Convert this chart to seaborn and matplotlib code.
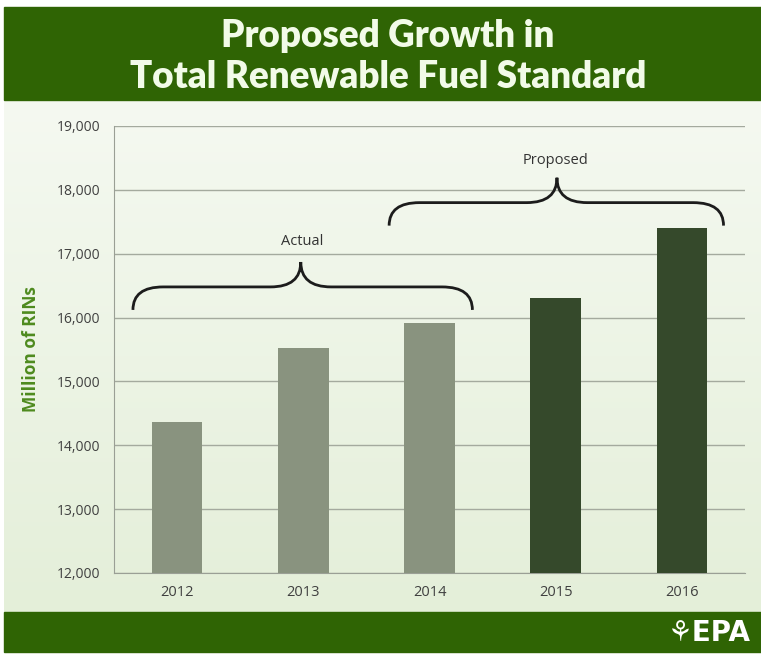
import numpy as np
import pandas as pd
import matplotlib.pyplot as plt
import seaborn as sns
from matplotlib.path import Path
from matplotlib.patches import PathPatch, Rectangle
from matplotlib.colors import LinearSegmentedColormap

years = ['2012', '2013', '2014', '2015', '2016']
rins = [14370, 15530, 15920, 16300, 17400]
status = ['Actual', 'Actual', 'Actual', 'Proposed', 'Proposed']
yticks = [12000, 13000, 14000, 15000, 16000, 17000, 18000, 19000]

df = pd.DataFrame({'Year': years, 'RINs': rins, 'Status': status})
palette = {'Actual': '#89937f', 'Proposed': '#35492b'}

sns.set_style('white')
plt.rcParams['font.family'] = ['Open Sans', 'DejaVu Sans']

fig = plt.figure(figsize=(7.61, 6.54), dpi=100)

# background gradient + green banners
bg = fig.add_axes([0, 0, 1, 1], zorder=-10)
bg.set_xlim(0, 761)
bg.set_ylim(654, 0)
bg.axis('off')
grad = np.linspace(0, 1, 256).reshape(-1, 1)
gcm = LinearSegmentedColormap.from_list('g', ['#f5f9f1', '#e4efd9'])
bg.imshow(grad, cmap=gcm, extent=[4, 761, 612, 100], aspect='auto')
bg.add_patch(Rectangle((4, 7), 757, 93, color='#2f6404'))
bg.add_patch(Rectangle((4, 612), 757, 40, color='#2f6404'))
bg.text(388, 36, 'Proposed Growth in', color='#f2fbe8', fontsize=26.5,
        fontweight='heavy', ha='center', va='center', family=['Lato', 'DejaVu Sans'])
bg.text(388, 77, 'Total Renewable Fuel Standard', color='#f2fbe8', fontsize=26.5,
        fontweight='heavy', ha='center', va='center', family=['Lato', 'DejaVu Sans'])
bg.text(750, 633, '\u2698EPA', color='white', fontsize=20, fontweight='bold',
        ha='right', va='center', family=['DejaVu Sans'])

ax = fig.add_axes([114 / 761, 1 - 573 / 654, (745 - 114) / 761, (573 - 126) / 654])
ax.patch.set_alpha(0)
sns.barplot(data=df, x='Year', y='RINs', hue='Status', palette=palette,
            dodge=False, width=0.4, legend=False, saturation=1, linewidth=0,
            ax=ax, zorder=3)
ax.set_ylim(12000, 19000)
ax.set_xlim(-0.5, 4.5)
ax.set_yticks(yticks)
ax.set_yticklabels([f'{v:,}' for v in yticks])
ax.yaxis.grid(True, color='#a4aa9e', lw=1)
ax.set_axisbelow(True)
for s in ['top', 'right']:
    ax.spines[s].set_visible(False)
for s in ['left', 'bottom']:
    ax.spines[s].set_color('#9a9f95')
ax.tick_params(axis='y', length=6, color='#9a9f95', labelcolor='#404040', labelsize=10, pad=4)
ax.tick_params(axis='x', length=0, labelcolor='#404040', labelsize=10.5, pad=9)
ax.set_xticks(np.arange(-0.5, 5, 1), minor=True)
ax.tick_params(axis='x', which='minor', length=4, color='#9a9f95')
ax.set_xlabel('')
ax.set_ylabel('Million of RINs', color='#4e8a1e', fontsize=12.5, fontweight='bold', labelpad=12)


def brace(x0, x1, xm, y_end, y_flat, y_peak, r=0.24):
    verts = [(x0, y_end), (x0, y_flat), (x0 + r, y_flat),
             (xm - r, y_flat), (xm, y_flat), (xm, y_peak),
             (xm, y_flat), (xm + r, y_flat),
             (x1 - r, y_flat), (x1, y_flat), (x1, y_end)]
    codes = [Path.MOVETO, Path.CURVE3, Path.CURVE3,
             Path.LINETO, Path.CURVE3, Path.CURVE3,
             Path.CURVE3, Path.CURVE3,
             Path.LINETO, Path.CURVE3, Path.CURVE3]
    ax.add_patch(PathPatch(Path(verts, codes), fill=False, lw=2, color='#1c1c1c',
                           clip_on=False, zorder=5))


brace(-0.35, 2.34, 0.98, 16120, 16480, 16870)
brace(1.68, 4.33, 3.01, 17440, 17800, 18190)
ax.text(0.99, 17190, 'Actual', ha='center', va='center', fontsize=10.5, color='#333333')
ax.text(3.0, 18460, 'Proposed', ha='center', va='center', fontsize=10.5, color='#333333')

fig.savefig('out.png', dpi=100)
